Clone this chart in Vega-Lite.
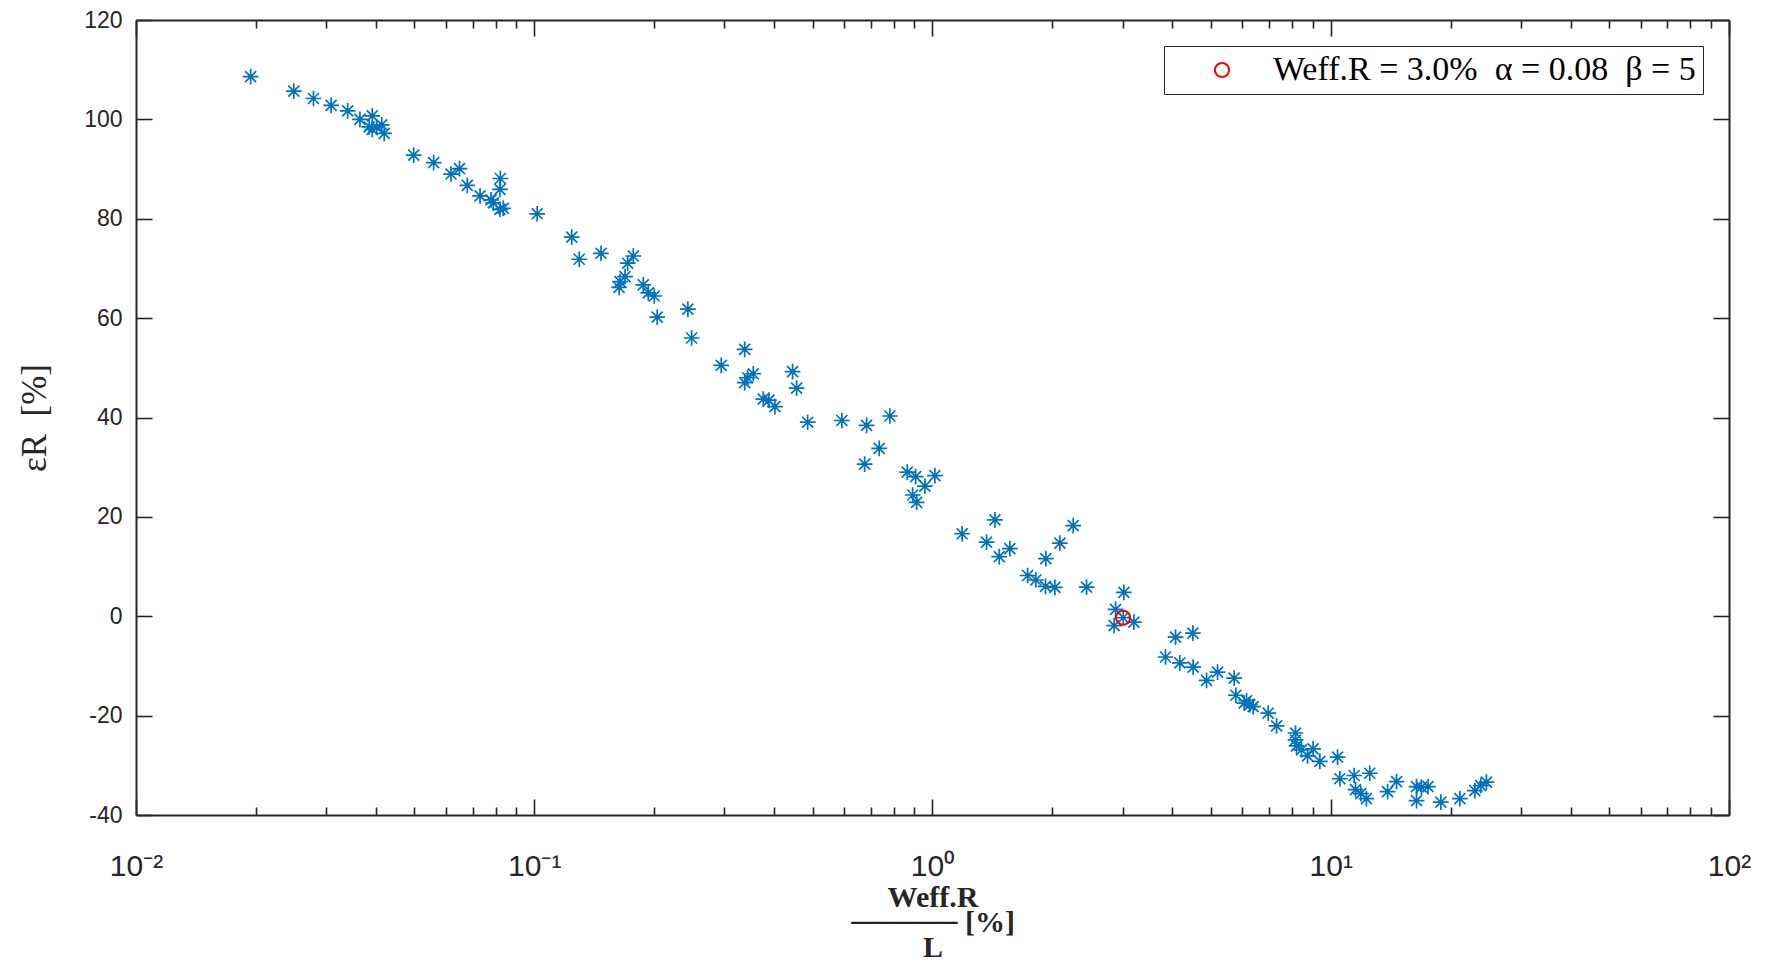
{
  "$schema": "https://vega.github.io/schema/vega-lite/v6.json",
  "width": 1593,
  "height": 795,
  "autosize": {"type": "none"},
  "padding": {"left": 136, "top": 20, "right": 36, "bottom": 146},
  "background": "#ffffff",
  "config": {
    "view": {"stroke": null},
    "axis": {
      "grid": false,
      "domainColor": "#262626",
      "domainWidth": 2,
      "tickColor": "#262626",
      "tickWidth": 1.6,
      "labelColor": "#262626",
      "labelFont": "Liberation Sans",
      "labelFontSize": 23,
      "titleColor": "#262626",
      "titleFont": "Liberation Serif",
      "titleFontSize": 32,
      "titleFontWeight": "normal"
    }
  },
  "datasets": {
    "pts": [
      {"x": 0.0194, "y": 108.6}, {"x": 0.0249, "y": 105.7}, {"x": 0.0279, "y": 104.2}, {"x": 0.0309, "y": 102.8},
      {"x": 0.034, "y": 101.7}, {"x": 0.0365, "y": 100.0}, {"x": 0.0392, "y": 100.7}, {"x": 0.0385, "y": 98.5},
      {"x": 0.0392, "y": 98.0}, {"x": 0.0402, "y": 98.4}, {"x": 0.0414, "y": 98.9}, {"x": 0.042, "y": 97.2},
      {"x": 0.0498, "y": 92.8}, {"x": 0.0559, "y": 91.3}, {"x": 0.0618, "y": 89.0}, {"x": 0.0649, "y": 90.1},
      {"x": 0.0679, "y": 86.7}, {"x": 0.0731, "y": 84.6}, {"x": 0.0779, "y": 83.8}, {"x": 0.0789, "y": 83.2},
      {"x": 0.082, "y": 81.9}, {"x": 0.0836, "y": 82.1}, {"x": 0.082, "y": 85.9}, {"x": 0.0822, "y": 88.1},
      {"x": 0.1017, "y": 81.0}, {"x": 0.1242, "y": 76.3}, {"x": 0.1297, "y": 71.85}, {"x": 0.1471, "y": 73.05},
      {"x": 0.1773, "y": 72.5}, {"x": 0.1716, "y": 71.05}, {"x": 0.169, "y": 68.35}, {"x": 0.1642, "y": 67.35},
      {"x": 0.1633, "y": 66.2}, {"x": 0.1878, "y": 66.7}, {"x": 0.1933, "y": 65.1}, {"x": 0.2001, "y": 64.45},
      {"x": 0.2036, "y": 60.2}, {"x": 0.2431, "y": 61.8}, {"x": 0.2484, "y": 56.0}, {"x": 0.2948, "y": 50.5},
      {"x": 0.3376, "y": 53.7}, {"x": 0.3548, "y": 48.8}, {"x": 0.3435, "y": 48.0}, {"x": 0.3376, "y": 47.0},
      {"x": 0.3758, "y": 43.7}, {"x": 0.3884, "y": 43.5}, {"x": 0.4021, "y": 42.2}, {"x": 0.4453, "y": 49.25},
      {"x": 0.4558, "y": 45.9}, {"x": 0.4859, "y": 39.05}, {"x": 0.5922, "y": 39.4}, {"x": 0.6832, "y": 38.4},
      {"x": 0.7816, "y": 40.3}, {"x": 0.6754, "y": 30.6}, {"x": 0.7349, "y": 33.8}, {"x": 0.8641, "y": 29.0},
      {"x": 0.9071, "y": 28.1}, {"x": 1.014, "y": 28.3}, {"x": 0.957, "y": 26.2}, {"x": 0.8915, "y": 24.4},
      {"x": 0.9123, "y": 22.9}, {"x": 1.187, "y": 16.6}, {"x": 1.435, "y": 19.4}, {"x": 1.367, "y": 14.9},
      {"x": 1.564, "y": 13.6}, {"x": 1.471, "y": 12.0}, {"x": 1.733, "y": 8.2}, {"x": 1.818, "y": 7.3},
      {"x": 1.922, "y": 6.0}, {"x": 2.029, "y": 5.8}, {"x": 1.926, "y": 11.6}, {"x": 2.089, "y": 14.7},
      {"x": 2.256, "y": 18.25}, {"x": 2.437, "y": 5.85}, {"x": 3.024, "y": 4.8}, {"x": 2.882, "y": 1.4},
      {"x": 3.012, "y": -0.3}, {"x": 3.204, "y": -1.2}, {"x": 2.858, "y": -1.9}, {"x": 4.077, "y": -4.2},
      {"x": 4.506, "y": -3.4}, {"x": 3.847, "y": -8.2}, {"x": 4.179, "y": -9.4}, {"x": 4.514, "y": -10.25},
      {"x": 4.877, "y": -12.9}, {"x": 5.197, "y": -11.25}, {"x": 5.721, "y": -12.45}, {"x": 5.777, "y": -15.9},
      {"x": 6.062, "y": -17.5}, {"x": 6.264, "y": -17.8}, {"x": 6.385, "y": -18.2}, {"x": 6.146, "y": -17.0},
      {"x": 6.965, "y": -19.5}, {"x": 7.31, "y": -22.05}, {"x": 8.157, "y": -23.5}, {"x": 8.157, "y": -24.9},
      {"x": 8.205, "y": -26.1}, {"x": 8.445, "y": -26.9}, {"x": 8.745, "y": -28.1}, {"x": 9.03, "y": -26.7},
      {"x": 9.39, "y": -29.2}, {"x": 10.4, "y": -28.35}, {"x": 10.54, "y": -32.7}, {"x": 11.45, "y": -32.05},
      {"x": 12.53, "y": -31.6}, {"x": 11.54, "y": -34.9}, {"x": 11.9, "y": -35.7}, {"x": 12.29, "y": -36.7},
      {"x": 13.89, "y": -35.3}, {"x": 14.63, "y": -33.3}, {"x": 16.42, "y": -34.3}, {"x": 16.9, "y": -34.4},
      {"x": 17.55, "y": -34.3}, {"x": 16.42, "y": -37.1}, {"x": 18.9, "y": -37.4}, {"x": 21.1, "y": -36.7},
      {"x": 23.0, "y": -35.1}, {"x": 23.8, "y": -34.1}, {"x": 24.6, "y": -33.4}
    ],
    "ref": [{"x": 3.01, "y": -0.3}]
  },
  "layer": [
    {
      "data": {"name": "pts"},
      "mark": {
        "type": "point",
        "shape": "M0,-1L0,1M-1,0L1,0M-0.7,-0.7L0.7,0.7M-0.7,0.7L0.7,-0.7",
        "filled": false,
        "color": "#0072BD",
        "strokeWidth": 1.7,
        "size": 246,
        "opacity": 1
      },
      "encoding": {
        "x": {
          "field": "x", "type": "quantitative",
          "scale": {"type": "log", "domain": [0.01, 100]},
          "axis": {
            "orient": "bottom",
            "values": [0.01,0.02,0.03,0.04,0.05,0.06,0.07,0.08,0.09,0.1,0.2,0.3,0.4,0.5,0.6,0.7,0.8,0.9,1,2,3,4,5,6,7,8,9,10,20,30,40,50,60,70,80,90,100],
            "labelExpr": "datum.value === 0.01 ? '10⁻²' : datum.value === 0.1 ? '10⁻¹' : datum.value === 1 ? '10⁰' : datum.value === 10 ? '10¹' : datum.value === 100 ? '10²' : ''",
            "labelOverlap": false,
            "labelFlush": false,
            "labelBound": false,
            "labelFontSize": 30,
            "tickSize": {"condition": {"test": "indexof([0.01,0.1,1,10,100], datum.value) >= 0", "value": -16}, "value": -8},
            "labelPadding": 52,
            "title": ["Weff.R\u00a0\u00a0\u00a0\u00a0\u00a0\u00a0\u00a0", "─────\u00a0[%]", "L\u00a0\u00a0\u00a0\u00a0\u00a0\u00a0\u00a0"],
            "titleFontWeight": "bold",
            "titleFontSize": 30,
            "titleLineHeight": 25,
            "titlePadding": -7
          }
        },
        "y": {
          "field": "y", "type": "quantitative",
          "scale": {"domain": [-40, 120], "nice": false, "zero": false},
          "axis": {
            "orient": "left",
            "values": [-40,-20,0,20,40,60,80,100,120],
            "labelExpr": "'' + datum.value",
            "tickSize": -16,
            "labelPadding": 30,
            "title": "εR\u00a0\u00a0[%]",
            "titleFontSize": 35,
            "titlePadding": 31
          }
        }
      }
    },
    {
      "data": {"name": "ref"},
      "mark": {"type": "point", "shape": "circle", "filled": false, "strokeWidth": 2, "size": 200, "opacity": 1},
      "encoding": {
        "x": {
          "field": "x", "type": "quantitative",
          "scale": {"type": "log", "domain": [0.01, 100]},
          "axis": {
            "orient": "top",
            "values": [0.01,0.02,0.03,0.04,0.05,0.06,0.07,0.08,0.09,0.1,0.2,0.3,0.4,0.5,0.6,0.7,0.8,0.9,1,2,3,4,5,6,7,8,9,10,20,30,40,50,60,70,80,90,100],
            "labels": false,
            "title": null,
            "tickSize": {"condition": {"test": "indexof([0.01,0.1,1,10,100], datum.value) >= 0", "value": -16}, "value": -8}
          }
        },
        "y": {
          "field": "y", "type": "quantitative",
          "scale": {"domain": [-40, 120], "nice": false, "zero": false},
          "axis": {
            "orient": "right",
            "values": [-40,-20,0,20,40,60,80,100,120],
            "labels": false,
            "title": null,
            "tickSize": -16
          }
        },
        "color": {
          "datum": "Weff.R = 3.0%\u00a0\u00a0α = 0.08\u00a0\u00a0β = 5",
          "type": "nominal",
          "scale": {"range": ["#FF0000"]},
          "legend": {
            "orient": "top-right",
            "offset": 26,
            "title": null,
            "strokeColor": "#262626",
            "fillColor": "#ffffff",
            "padding": 7,
            "labelFont": "Liberation Serif",
            "labelFontSize": 34,
            "labelColor": "#000000",
            "labelLimit": 1000,
            "symbolType": "circle",
            "symbolSize": 200,
            "symbolStrokeWidth": 2,
            "symbolStrokeColor": "#FF0000",
            "symbolFillColor": "transparent",
            "symbolOffset": 34,
            "labelOffset": 34
          }
        }
      }
    }
  ],
  "resolve": {"axis": {"x": "independent", "y": "independent"}}
}
